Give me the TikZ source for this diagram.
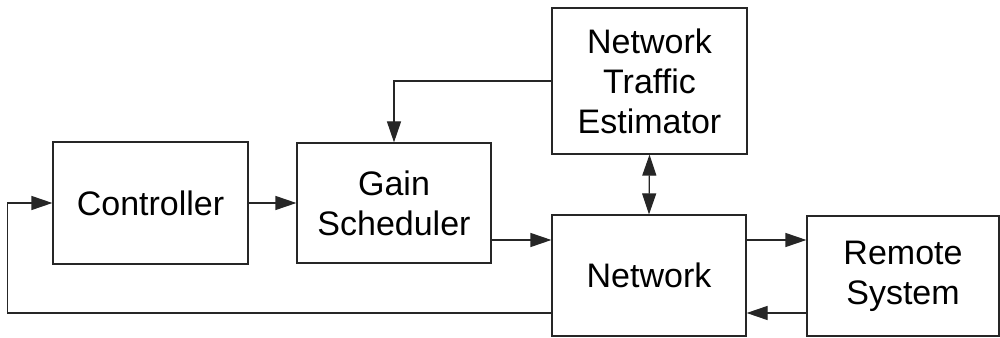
\documentclass[tikz,border=0pt]{standalone}
\usepackage{fontspec}
\setmainfont{Liberation Sans}
\usetikzlibrary{arrows.meta,calc}
\begin{document}
\begin{tikzpicture}[x=1pt,y=1pt,
  blk/.style={draw=black!85,line width=1.2pt,inner sep=0pt,align=center,
    font=\fontsize{34}{40}\selectfont},
  conn/.style={draw=black!85,line width=1.2pt,-{Triangle[length=21pt,width=14pt]}},
  dconn/.style={draw=black!85,line width=1.2pt,{Triangle[length=21pt,width=14pt]}-{Triangle[length=21pt,width=14pt]}}]
\useasboundingbox (0,0) rectangle (1000,337);
\node[blk,minimum width=195pt,minimum height=122pt] (ctrl) at (150.5,134) {Controller};
\node[blk,minimum width=194pt,minimum height=120pt] (gain) at (394,134) {Gain\\Scheduler};
\node[blk,minimum width=195pt,minimum height=146pt] (nte) at (649.5,256) {Network\\Traffic\\Estimator};
\node[blk,minimum width=194pt,minimum height=121pt] (net) at (649,61.5) {Network};
\node[blk,minimum width=192pt,minimum height=120pt] (rem) at (903,61) {Remote\\System};
\draw[conn] (ctrl.east) -- (gain.west);
\draw[conn] ([yshift=-37pt]gain.east) -- ([yshift=-37pt]gain.east -| net.west);
\draw[conn] (nte.west) -| (gain.north);
\draw[dconn] (nte.south) -- (net.north);
\draw[conn] ([yshift=35.5pt]net.east) -- ([yshift=35.5pt]net.east -| rem.west);
\draw[conn] ([yshift=-37pt]rem.west) -- ([yshift=-37pt]rem.west -| net.east);
\draw[conn] ([yshift=-37.5pt]net.west) -| ([xshift=-45pt]ctrl.west) -- (ctrl.west);
\end{tikzpicture}
\end{document}
